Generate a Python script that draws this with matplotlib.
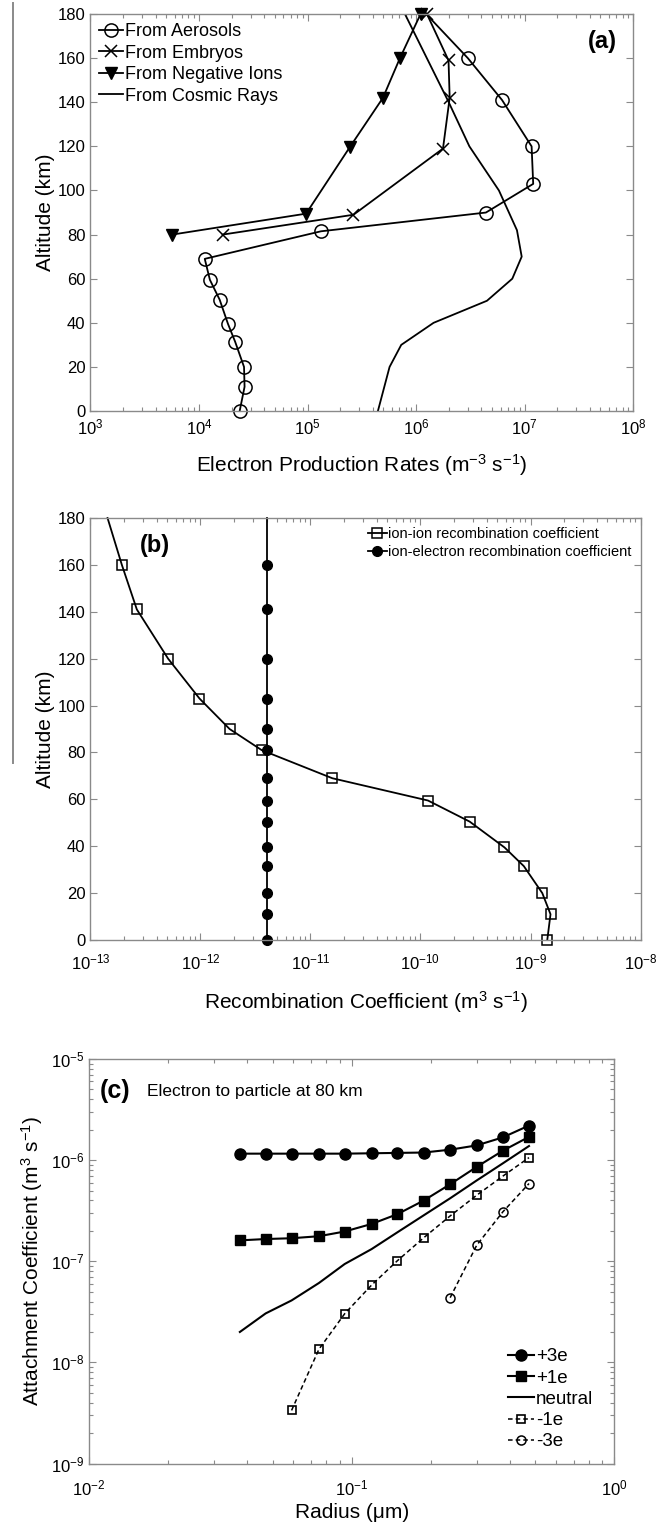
import matplotlib
matplotlib.use("Agg")
import matplotlib.pyplot as plt
from matplotlib.ticker import LogLocator, MultipleLocator, NullFormatter
from matplotlib.lines import Line2D

plt.rcParams['font.family'] = ['Liberation Sans', 'DejaVu Sans']
plt.rcParams['mathtext.default'] = 'regular'

# (a) electron production rates
alt_aer = [180, 160, 141, 120, 103, 90, 81.5, 69, 59.5, 50.5, 39.5, 31.5, 20, 11, 0]
rate_aer = [1.24e6, 3.0e6, 6.2e6, 1.16e7, 1.2e7, 4.4e6, 1.33e5, 1.13e4, 1.26e4,
            1.55e4, 1.85e4, 2.15e4, 2.6e4, 2.63e4, 2.37e4]
alt_emb = [180, 159, 142, 119, 89, 80]
rate_emb = [1.26e6, 1.99e6, 2.04e6, 1.77e6, 2.65e5, 1.65e4]
alt_neg = [180, 160, 142, 119.5, 89.5, 80]
rate_neg = [1.1e6, 7.1e5, 4.95e5, 2.44e5, 9.7e4, 5.66e3]
alt_cr = [180, 140, 120, 100, 82, 70, 60, 50, 40, 30, 20, 0]
rate_cr = [7.9e5, 2.0e6, 3.1e6, 5.8e6, 8.5e6, 9.4e6, 7.7e6, 4.5e6, 1.45e6, 7.3e5, 5.7e5, 4.45e5]

# (b) recombination coefficients
alt_b = [180, 160, 141, 120, 103, 90, 81, 69, 59.5, 50.5, 39.5, 31.5, 20, 11, 0]
ion_ion = [1.43e-13, 1.93e-13, 2.64e-13, 5.08e-13, 9.8e-13, 1.84e-12, 3.6e-12, 1.58e-11,
           1.17e-10, 2.8e-10, 5.8e-10, 8.7e-10, 1.28e-9, 1.52e-9, 1.42e-9]
ion_elec = [4.0e-12] * 15

# (c) attachment coefficients at 80 km
radius = [0.0375, 0.047, 0.059, 0.075, 0.094, 0.119, 0.149, 0.188, 0.237, 0.299, 0.376, 0.473]
plus3 = [1.16e-6, 1.16e-6, 1.16e-6, 1.16e-6, 1.16e-6, 1.17e-6, 1.18e-6, 1.19e-6,
         1.27e-6, 1.40e-6, 1.68e-6, 2.2e-6]
plus1 = [1.61e-7, 1.66e-7, 1.69e-7, 1.77e-7, 1.97e-7, 2.34e-7, 2.92e-7, 3.99e-7,
         5.78e-7, 8.58e-7, 1.24e-6, 1.70e-6]
neutral = [2.0e-8, 3.05e-8, 4.1e-8, 6.1e-8, 9.4e-8, 1.32e-7, 1.93e-7, 2.85e-7,
           4.2e-7, 6.3e-7, 9.3e-7, 1.38e-6]
minus1 = [3.35e-9, 1.35e-8, 3.03e-8, 5.82e-8, 1.01e-7, 1.71e-7, 2.81e-7, 4.50e-7, 6.95e-7, 1.06e-6]
minus3 = [4.37e-8, 1.44e-7, 3.08e-7, 5.87e-7]

GRAY = '#8a8a8a'
TICK_FS = 12
LABEL_FS = 15


def style_axes(ax, logy=False):
    for s in ax.spines.values():
        s.set_color(GRAY)
        s.set_linewidth(1.0)
    ax.tick_params(which='both', direction='in', top=True, right=True,
                   color=GRAY, labelsize=TICK_FS, width=0.8)
    ax.tick_params(which='major', length=5)
    ax.tick_params(which='minor', length=3)
    ax.xaxis.set_minor_locator(LogLocator(base=10, subs=range(2, 10), numticks=20))
    ax.xaxis.set_minor_formatter(NullFormatter())
    if logy:
        ax.yaxis.set_minor_locator(LogLocator(base=10, subs=range(2, 10), numticks=20))
        ax.yaxis.set_minor_formatter(NullFormatter())


fig = plt.figure(figsize=(6.7, 15.28), dpi=100)

# ---- (a)
ax1 = fig.add_axes([0.135, 0.731, 0.810, 0.2598])
ax1.plot(rate_aer, alt_aer, 'k-', marker='o', mfc='none', ms=9.5, mew=1.1, lw=1.3,
         markevery=list(range(1, len(alt_aer))), label='From Aerosols', clip_on=False)
ax1.plot(rate_emb, alt_emb, 'k-', marker='x', ms=8, mew=1.1, lw=1.3,
         label='From Embryos', clip_on=False)
ax1.plot(rate_neg, alt_neg, 'k-', marker='v', ms=8, lw=1.3,
         label='From Negative Ions', clip_on=False)
ax1.plot(rate_cr, alt_cr, 'k-', lw=1.3, label='From Cosmic Rays')
ax1.set_xscale('log')
ax1.set_xlim(1e3, 1e8)
ax1.set_ylim(0, 180)
ax1.yaxis.set_major_locator(MultipleLocator(20))
style_axes(ax1)
ax1.tick_params(axis='x', pad=5)
ax1.set_xlabel('Electron Production Rates (m$^{-3}$ s$^{-1}$)', fontsize=LABEL_FS, labelpad=10)
ax1.set_ylabel('Altitude (km)', fontsize=LABEL_FS, labelpad=2)
ax1.legend(loc='upper left', frameon=False, fontsize=13, handlelength=1.3,
           handletextpad=0.1, borderaxespad=0.1, labelspacing=0.25)
ax1.text(0.97, 0.93, '(a)', transform=ax1.transAxes, ha='right', va='center',
         fontsize=17, fontweight='bold')

# ---- (b)
ax2 = fig.add_axes([0.135, 0.3848, 0.821, 0.2762])
ax2.plot(ion_ion, alt_b, 'k-', marker='s', mfc='none', ms=7, mew=1.1, lw=1.3,
         markevery=list(range(1, len(alt_b))), label='ion-ion recombination coefficient',
         clip_on=False)
ax2.plot(ion_elec, alt_b, 'k-', marker='o', ms=7, lw=1.3,
         markevery=list(range(1, len(alt_b))), label='ion-electron recombination coefficient',
         clip_on=False)
ax2.set_xscale('log')
ax2.set_xlim(1e-13, 1e-8)
ax2.set_ylim(0, 180)
ax2.yaxis.set_major_locator(MultipleLocator(20))
style_axes(ax2)
ax2.tick_params(axis='x', pad=9)
ax2.set_xlabel('Recombination Coefficient (m$^{3}$ s$^{-1}$)', fontsize=LABEL_FS, labelpad=12)
ax2.set_ylabel('Altitude (km)', fontsize=LABEL_FS, labelpad=2)
ax2.legend(loc='upper right', frameon=False, fontsize=10.5, handlelength=1.3,
           handletextpad=0.1, borderaxespad=0.2, labelspacing=0.3)
ax2.text(0.09, 0.935, '(b)', transform=ax2.transAxes, ha='left', va='center',
         fontsize=17, fontweight='bold')

# ---- (c)
ax3 = fig.add_axes([0.133, 0.0422, 0.784, 0.2647])
ax3.plot(radius, plus3, 'k-', marker='o', ms=8, lw=1.5, label='+3e')
ax3.plot(radius, plus1, 'k-', marker='s', ms=7, lw=1.5, label='+1e')
ax3.plot(radius, neutral, 'k-', lw=1.5, label='neutral')
ax3.plot(radius[2:], minus1, 'k--', marker='s', mfc='none', ms=6, mew=1.2, lw=1.1,
         dashes=(3, 2), label='-1e')
ax3.plot(radius[8:], minus3, 'k--', marker='o', mfc='none', ms=6.5, mew=1.1, lw=1.1,
         dashes=(3, 2), label='-3e')
ax3.set_xscale('log')
ax3.set_yscale('log')
ax3.set_xlim(1e-2, 1e0)
ax3.set_ylim(1e-9, 1e-5)
style_axes(ax3, logy=True)
ax3.tick_params(axis='x', pad=11)
ax3.set_xlabel('Radius (μm)', fontsize=LABEL_FS, labelpad=3)
ax3.set_ylabel('Attachment Coefficient (m$^{3}$ s$^{-1}$)', fontsize=LABEL_FS)
ax3.legend(loc='lower right', frameon=False, fontsize=13.5, handlelength=1.4,
           handletextpad=0.1, borderaxespad=0.3, labelspacing=0.22,
           bbox_to_anchor=(0.985, 0.0))
ax3.text(0.02, 0.92, '(c)', transform=ax3.transAxes, ha='left', va='center',
         fontsize=18, fontweight='bold')
ax3.text(0.11, 0.92, 'Electron to particle at 80 km', transform=ax3.transAxes,
         ha='left', va='center', fontsize=12.5)

# scanning artifact: gray vertical bar at the left margin
fig.add_artist(Line2D([13 / 670, 13 / 670], [1 - 3 / 1528, 1 - 763 / 1528],
                      color=GRAY, lw=1.4))

fig.savefig('out.png', dpi=100)
